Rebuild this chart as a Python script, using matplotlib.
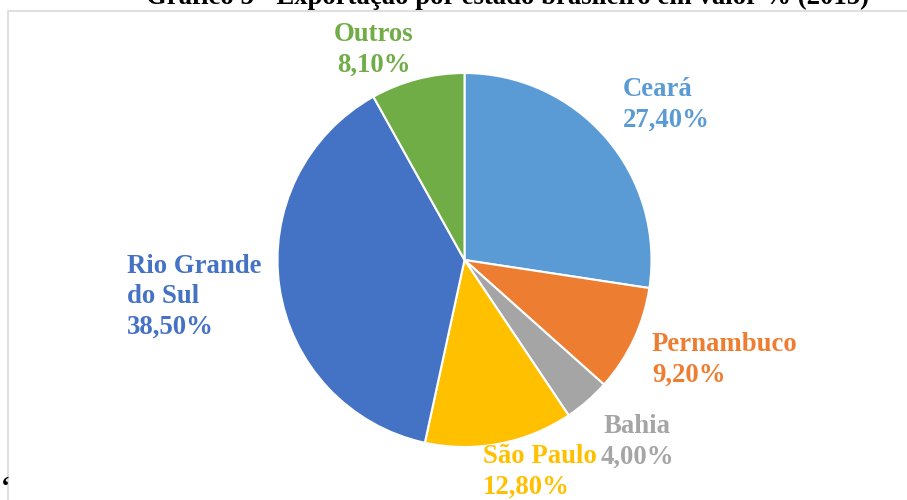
import matplotlib
matplotlib.use("Agg")
import matplotlib.pyplot as plt
from matplotlib.patches import Rectangle

title = "Gráfico 5 - Exportação por estado brasileiro em valor % (2015)"
states = ["Ceará", "Pernambuco", "Bahia", "São Paulo", "Rio Grande\ndo Sul", "Outros"]
values = [27.4, 9.2, 4.0, 12.8, 38.5, 8.1]
pct_labels = ["27,40%", "9,20%", "4,00%", "12,80%", "38,50%", "8,10%"]
colors = ["#5B9BD5", "#ED7D31", "#A5A5A5", "#FFC000", "#4472C4", "#70AD47"]

W, H = 907, 500
fig = plt.figure(figsize=(W / 100, H / 100), dpi=100)
ax = fig.add_axes([0, 0, 1, 1])
ax.set_xlim(0, W)
ax.set_ylim(0, H)
ax.set_aspect("equal")
ax.axis("off")

# chart frame
ax.add_patch(Rectangle((8, -10), 1000, H - 11 + 10, fill=False, edgecolor="#D9D9D9", linewidth=1.2))

ax.pie(values, colors=colors, startangle=90, counterclock=False,
       center=(464.5, H - 260), radius=187,
       wedgeprops=dict(edgecolor="white", linewidth=1.5))
ax.set_xlim(0, W)
ax.set_ylim(0, H)

font = dict(family="Liberation Serif", fontweight="bold", fontsize=19.3)

# label anchor (x, first baseline from top), alignment
label_pos = [
    (623, 96, "left"),
    (652, 351, "left"),
    (637, 433, "center"),
    (483, 463, "left"),
    (127, 273, "left"),
    (374, 41, "center"),
]
line_step = 30.3
for (name, pct, col, (x, y, ha)) in zip(states, pct_labels, colors, label_pos):
    lines = name.split("\n") + [pct]
    for i, line in enumerate(lines):
        ax.text(x, H - (y + i * line_step), line, color=col, ha=ha, va="baseline", **font)

ax.text(508, H - 4, title, ha="center", va="baseline", color="black", **font)
ax.text(1, H - 495, "‘", ha="left", va="baseline", color="black", **font)

fig.savefig("out.png", dpi=100)
